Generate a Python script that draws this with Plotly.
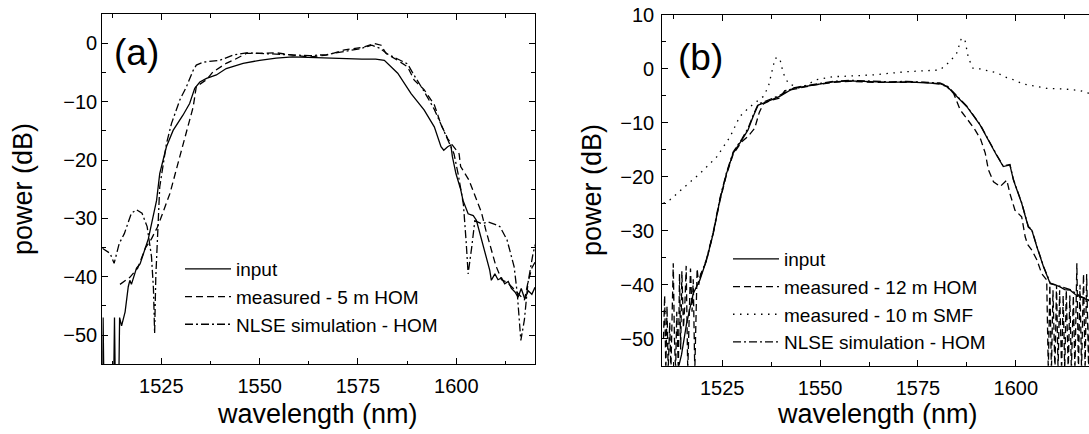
import plotly.graph_objects as go
from plotly.subplots import make_subplots

### Panel (a): 5 m HOM ###
wl_a_input = [1510.0, 1510.2, 1510.4, 1512.9, 1513.1, 1513.3, 1514.2, 1514.4, 1514.9, 1515.8,
              1516.6, 1517.0, 1517.4, 1518.7, 1519.6, 1521.7, 1523.8, 1524.6, 1526.3, 1528.0,
              1530.5, 1532.2, 1533.5, 1534.8, 1536.5, 1539.0, 1541.5, 1545.8, 1550.0, 1554.2,
              1558.4, 1562.7, 1567.0, 1571.5, 1576.0, 1579.5, 1581.7, 1585.1, 1588.5, 1591.8,
              1594.4, 1596.1, 1596.8, 1597.8, 1598.6, 1599.0, 1599.9, 1601.1, 1601.7, 1603.0,
              1604.3, 1605.1, 1606.4, 1607.6, 1608.5, 1608.9, 1609.8, 1610.6, 1611.5, 1612.3,
              1613.2, 1614.0, 1614.9, 1615.7, 1616.5, 1617.4, 1618.3, 1619.2, 1620.0]
db_a_input = [-58, -47, -58, -58, -47, -58, -58, -47, -48.4, -46.0,
              -41.7, -40.6, -41.3, -38.5, -37.8, -33.5, -26.9, -22.3, -17.7, -14.9,
              -12.3, -10.3, -7.7, -6.6, -6.0, -5.4, -4.3, -3.4, -2.9, -2.5,
              -2.3, -2.4, -2.6, -2.7, -2.7, -2.7, -2.9, -5.1, -8.6, -11.4,
              -14.3, -17.7, -18.3, -17.7, -17.4, -19.4, -22.3, -25.0, -26.9, -29.2,
              -29.5, -30.3, -33.7, -36.6, -38.9, -40.6, -39.5, -40.5, -40.2, -41.2,
              -40.8, -42.0, -42.6, -43.5, -42.0, -43.8, -42.4, -43.0, -41.8]

wl_a_meas = [1514.5, 1517.0, 1519.0, 1521.0, 1522.5, 1524.0, 1525.4, 1527.2, 1529.7, 1531.8,
             1533.1, 1533.9, 1534.8, 1536.5, 1538.1, 1541.5, 1543.2, 1546.6, 1550.0, 1554.2,
             1558.4, 1562.7, 1567.0, 1571.6, 1576.6, 1579.2, 1580.9, 1582.1, 1585.1, 1587.6,
             1589.3, 1591.8, 1594.4, 1596.1, 1597.8, 1598.6, 1600.7, 1601.1, 1603.2, 1604.5,
             1606.4, 1607.5, 1608.7, 1610.0, 1611.5, 1613.0, 1614.5, 1616.0, 1617.3, 1618.2,
             1619.2, 1620.0]
db_a_meas = [-41.3, -40.1, -38.5, -35.0, -33.5, -31.5, -29.0, -25.7, -19.4, -14.3,
             -10.9, -7.4, -7.0, -6.2, -4.9, -3.4, -2.9, -1.7, -1.7, -1.6,
             -2.0, -2.3, -2.0, -1.1, -0.6, 0.0, -0.3, -1.7, -2.9, -4.0,
             -6.3, -7.9, -10.5, -13.9, -16.3, -17.1, -18.9, -21.1, -23.4, -25.7,
             -29.0, -32.0, -35.0, -38.0, -40.5, -41.0, -42.0, -43.0, -44.0, -41.0,
             -38.5, -37.5]

wl_a_nlse = [1510.0, 1512.0, 1513.0, 1514.3, 1515.6, 1517.4, 1518.7, 1520.1, 1521.4, 1522.0,
             1522.5, 1523.0, 1523.3, 1523.6, 1524.0, 1524.6, 1526.3, 1527.6, 1529.7, 1531.4,
             1533.1, 1533.9, 1535.6, 1539.8, 1543.2, 1546.6, 1550.0, 1554.2, 1558.4, 1562.7,
             1567.0, 1571.6, 1575.5, 1578.5, 1580.5, 1582.5, 1585.0, 1587.6, 1589.3, 1591.8,
             1594.4, 1596.5, 1598.3, 1599.4, 1600.5, 1601.8, 1602.5, 1603.0, 1603.9, 1604.7,
             1606.4, 1608.1, 1609.8, 1611.1, 1612.9, 1614.7, 1615.5, 1616.4, 1617.3, 1618.2,
             1619.5, 1620.4]
db_a_nlse = [-35.1, -36.0, -37.7, -34.3, -32.6, -29.1, -28.5, -29.1, -31.4, -34.0,
             -36.5, -42.0, -49.7, -40.0, -32.5, -24.6, -17.2, -13.7, -9.7, -7.4,
             -4.6, -3.7, -3.2, -2.9, -2.0, -1.6, -1.7, -1.8, -1.9, -2.1,
             -1.9, -1.3, -0.9, -0.3, -0.8, -1.8, -2.6, -3.5, -5.5, -8.2,
             -11.3, -14.5, -17.0, -18.9, -22.5, -27.6, -34.0, -39.5, -35.0, -30.4,
             -30.9, -30.6, -31.0, -31.4, -33.7, -38.3, -42.9, -50.9, -47.4, -41.1,
             -36.0, -33.7]

### Panel (b): 12 m HOM and 10 m SMF ###
wl_b_input = [1513.6, 1514.6, 1515.9, 1517.6, 1519.3, 1521.0, 1522.7, 1524.4, 1526.1, 1527.8,
              1530.0, 1531.6, 1532.9, 1534.2, 1536.3, 1539.7, 1543.1, 1548.3, 1553.4, 1557.6,
              1563.6, 1568.0, 1572.1, 1576.5, 1580.6, 1582.4, 1584.9, 1587.5, 1590.9, 1593.4,
              1595.1, 1596.8, 1598.5, 1599.4, 1601.5, 1603.2, 1604.1, 1605.4, 1607.1, 1608.8,
              1610.0, 1611.3, 1612.5, 1613.9, 1615.2, 1616.4, 1617.5, 1618.6, 1619.5]
db_b_input = [-56.0, -53.0, -47.2, -41.6, -39.1, -35.4, -30.5, -24.3, -19.4, -15.6,
              -13.2, -11.3, -8.8, -6.7, -6.1, -5.1, -3.6, -3.0, -2.4, -2.2,
              -2.4, -2.5, -2.4, -2.5, -2.7, -3.2, -5.1, -7.0, -10.4, -13.8,
              -16.0, -18.1, -17.8, -20.6, -24.9, -29.3, -29.9, -33.0, -36.7, -39.8,
              -40.0, -40.4, -40.9, -41.0, -41.8, -42.2, -42.5, -42.9, -43.4]

wl_b_hom = [1510.0, 1510.3, 1510.6, 1510.9, 1511.2, 1511.6, 1511.9, 1512.3, 1512.5, 1512.8,
            1513.1, 1513.4, 1513.8, 1514.1, 1514.4, 1514.7, 1515.1, 1515.5, 1515.8, 1516.2,
            1516.6, 1516.9, 1517.3, 1517.6, 1518.0, 1518.3, 1518.6, 1519.0, 1519.5, 1520.2,
            1521.0, 1522.7, 1524.4, 1526.1, 1527.8, 1530.0, 1531.6, 1533.3, 1534.5, 1535.5,
            1537.5, 1539.7, 1541.0, 1543.1, 1548.3, 1553.4, 1557.6, 1563.6, 1568.0, 1572.1,
            1576.5, 1580.6, 1582.4, 1584.1, 1585.8, 1587.5, 1589.6, 1591.0, 1592.2, 1593.0,
            1594.3, 1596.0, 1597.7, 1598.5, 1599.8, 1601.5, 1602.4, 1603.0, 1604.1, 1605.4,
            1606.6, 1607.9, 1608.3, 1608.7, 1609.1, 1609.5, 1610.0, 1610.4, 1610.8, 1611.2,
            1611.7, 1612.1, 1612.5, 1612.9, 1613.4, 1613.8, 1614.2, 1614.7, 1615.1, 1615.6,
            1616.0, 1616.4, 1616.8, 1617.3, 1617.7, 1618.1, 1618.6, 1619.0]
db_b_hom = [-50, -42, -56, -44, -56, -47, -56, -40, -36, -50,
            -56, -45, -56, -38, -52, -37.5, -48, -43, -36.5, -56,
            -42, -37, -45, -39, -56, -44, -37, -40, -38, -37,
            -35.5, -30.5, -24.5, -19.6, -15.8, -13.5, -12.5, -11.0, -8.0, -6.5,
            -5.8, -5.4, -4.0, -3.8, -3.0, -2.5, -2.3, -2.5, -2.5, -2.5,
            -2.5, -2.8, -3.3, -4.5, -7.6, -9.2, -11.3, -13.0, -15.6, -18.7,
            -20.9, -21.8, -20.6, -23.1, -26.2, -27.4, -31.1, -32.5, -33.6, -35.4,
            -37.9, -39.1, -56, -40, -56, -41, -56, -40, -56, -41,
            -56, -42, -56, -41, -56, -42, -56, -42, -56, -36,
            -56, -40, -56, -38, -56, -38, -56, -40]

wl_b_smf = [1510.0, 1511.6, 1515.0, 1519.3, 1523.6, 1527.0, 1529.5, 1532.1, 1535.5, 1536.8,
            1537.6, 1538.5, 1539.7, 1540.6, 1541.9, 1544.9, 1549.1, 1553.4, 1555.0, 1563.6,
            1572.1, 1580.6, 1583.2, 1584.9, 1586.1, 1587.0, 1587.9, 1589.1, 1590.9, 1593.4,
            1595.1, 1597.7, 1599.4, 1601.9, 1603.7, 1607.9, 1612.2, 1616.4, 1618.6, 1620.0]
db_b_smf = [-24.9, -24.3, -22.1, -19.4, -16.3, -12.6, -8.8, -7.0, -5.1, -3.3,
            -0.8, 2.0, 2.0, -0.8, -2.7, -3.6, -2.0, -1.4, -1.4, -1.1,
            -0.5, -0.2, 1.4, 2.9, 5.7, 5.4, 2.0, 0.1, 0.0, -0.5,
            -0.7, -1.6, -2.0, -2.8, -3.0, -3.6, -3.7, -4.0, -4.5, -4.6]

wl_b_nlse = [1519.3, 1521.0, 1522.7, 1524.4, 1526.1, 1527.8, 1530.0, 1531.6, 1532.9, 1534.2,
             1536.3, 1539.7, 1543.1, 1548.3, 1553.4, 1557.6, 1563.6, 1568.0, 1572.1, 1576.5,
             1580.6, 1582.4, 1584.9, 1587.5, 1590.9, 1593.4, 1595.1, 1596.8, 1598.5, 1599.4,
             1601.5, 1603.2, 1604.1, 1605.4, 1607.1, 1608.8, 1611.3, 1613.9, 1616.4, 1618.6]
db_b_nlse = [-38.8, -35.2, -30.3, -24.0, -19.2, -15.4, -13.0, -11.0, -8.6, -6.5,
             -5.9, -4.9, -3.5, -2.9, -2.3, -2.1, -2.3, -2.4, -2.3, -2.4,
             -2.6, -3.1, -5.0, -6.9, -10.3, -13.7, -15.9, -18.0, -17.7, -20.5,
             -24.8, -29.2, -29.8, -32.9, -36.6, -39.7, -40.3, -40.9, -42.1, -42.8]

### Plot ###
FONT = 'Liberation Sans, Arial, sans-serif'
W, H = 1089, 434

fig = make_subplots(rows=1, cols=2)

def add_line(x, y, name, dash, col, legend):
    fig.add_trace(go.Scatter(x=x, y=y, name=name, mode='lines',
                             line=dict(color='black', width=1.3, dash=dash),
                             legend=legend), row=1, col=col)

add_line(wl_a_input, db_a_input, 'input', 'solid', 1, 'legend')
add_line(wl_a_meas, db_a_meas, 'measured - 5 m HOM', '7px,4px', 1, 'legend')
add_line(wl_a_nlse, db_a_nlse, 'NLSE simulation - HOM', '8px,3px,2px,3px', 1, 'legend')

add_line(wl_b_input, db_b_input, 'input', 'solid', 2, 'legend2')
add_line(wl_b_hom, db_b_hom, 'measured - 12 m HOM', '7px,4px', 2, 'legend2')
add_line(wl_b_smf, db_b_smf, 'measured - 10 m SMF', '1.5px,5.5px', 2, 'legend2')
add_line(wl_b_nlse, db_b_nlse, 'NLSE simulation - HOM', '8px,3px,2px,3px', 2, 'legend2')

minor_style = dict(ticks='inside', ticklen=3.5, tickcolor='black', tickwidth=1.2)
axis_style = dict(showgrid=False, zeroline=False, showline=True, linecolor='black',
                  linewidth=1.3, mirror='ticks', ticks='inside', ticklen=6,
                  tickwidth=1.2, tickcolor='black', automargin=False,
                  tickfont=dict(family=FONT, size=20, color='black'))

fig.update_xaxes(axis_style, ticklabelstandoff=4)
fig.update_yaxes(axis_style)

fig.update_xaxes(range=[1510, 1620], domain=[102.3 / W, 535.0 / W], tick0=1525, dtick=25,
                 minor=dict(minor_style, dtick=12.5), row=1, col=1)
fig.update_yaxes(range=[-55, 5], domain=[(H - 364.3) / H, (H - 14.3) / H], tick0=0, dtick=10,
                 minor=dict(minor_style, dtick=5), row=1, col=1)
fig.update_xaxes(range=[1509.7, 1618.7], domain=[662.3 / W, 1.0], tick0=1525, dtick=25,
                 minor=dict(minor_style, dtick=12.5), row=1, col=2)
# right spine of (b) falls just outside the picture: only its ticks show
fig.update_yaxes(range=[-55, 10], domain=[(H - 365.7) / H, (H - 15) / H], tick0=0, dtick=10,
                 minor=dict(minor_style, dtick=5), mirror=False, ticklabelstandoff=3,
                 row=1, col=2)
fig.update_layout(yaxis3=dict(overlaying='y2', anchor='x2', side='right', matches='y2',
                              showgrid=False, zeroline=False, showline=False,
                              showticklabels=False, ticks='inside', ticklen=6, tickwidth=1.2,
                              tickcolor='black', tick0=0, dtick=10, automargin=False,
                              minor=dict(minor_style, dtick=5)))

legend_style = dict(font=dict(family=FONT, size=19, color='black'), bgcolor='rgba(0,0,0,0)',
                    borderwidth=0, itemwidth=46, tracegroupgap=0,
                    xanchor='left', yanchor='top', itemclick=False)
fig.update_layout(
    legend=dict(legend_style, x=180 / W, y=(H - 250) / H),
    legend2=dict(legend_style, x=728 / W, y=(H - 240) / H),
)

def text(s, x, y, size, angle=0):
    fig.add_annotation(text=s, x=x / W, y=(H - y) / H, xref='paper', yref='paper',
                       showarrow=False, textangle=angle, xanchor='center', yanchor='middle',
                       font=dict(family=FONT, size=size, color='black'))

text('(a)', 136, 52.5, 37)
text('(b)', 700.5, 58, 37)
text('wavelength (nm)', 317, 414, 27)
text('wavelength (nm)', 877.7, 414, 27)
text('power (dB)', 23, 189, 27, -90)
text('power (dB)', 592, 190, 27, -90)

fig.update_layout(template='none', width=W, height=H, margin=dict(l=0, r=0, t=0, b=0, pad=0),
                  paper_bgcolor='white', plot_bgcolor='white', showlegend=True)

fig.write_html("out.html", config={'displayModeBar': False},
               post_script="document.body.style.margin='0';")
